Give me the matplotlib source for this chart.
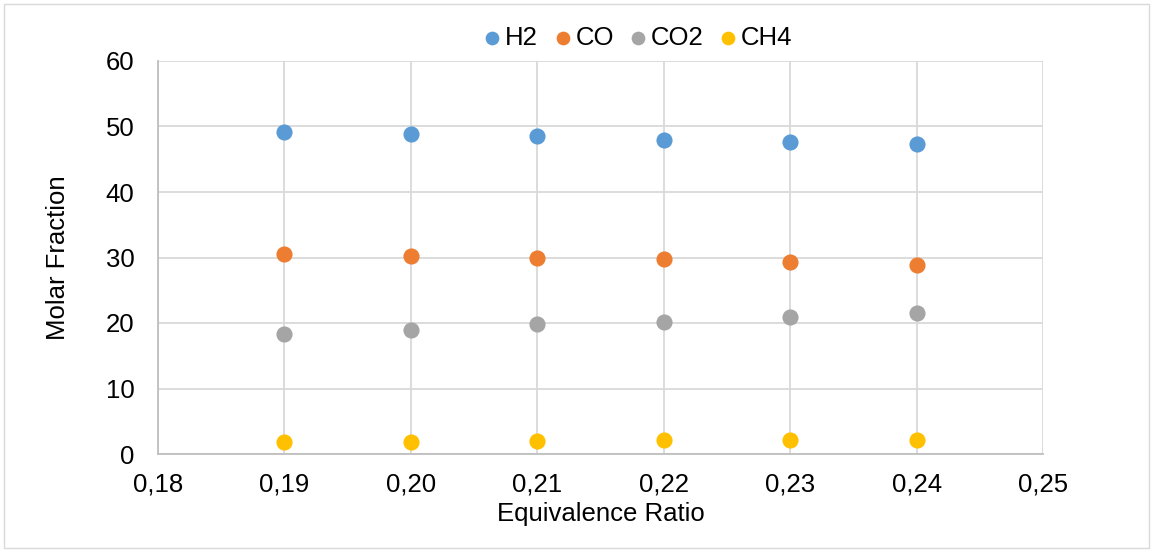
import matplotlib.pyplot as plt
from matplotlib.ticker import FuncFormatter, MultipleLocator

plt.rcParams['font.family'] = ['Liberation Sans', 'DejaVu Sans']

# equivalence ratio and gas composition (molar %)
ratio = [0.19, 0.20, 0.21, 0.22, 0.23, 0.24]
h2 = [49.2, 48.8, 48.5, 47.9, 47.6, 47.3]
co = [30.5, 30.2, 29.9, 29.8, 29.3, 28.9]
co2 = [18.3, 19.0, 19.8, 20.2, 20.9, 21.6]
ch4 = [1.9, 1.9, 2.0, 2.1, 2.1, 2.1]

series = [("H2", h2, "#5b9bd5"), ("CO", co, "#ed7d31"),
          ("CO2", co2, "#a5a5a5"), ("CH4", ch4, "#ffc000")]

W, H = 1153, 552
fig = plt.figure(figsize=(W / 100, H / 100), dpi=100)
ax = fig.add_axes([158 / W, 1 - 454 / H, (1043 - 158) / W, (454 - 61) / H])

for name, vals, col in series:
    ax.scatter(ratio, vals, s=135, color=col, label=name, zorder=3, linewidths=0)

ax.set_xlim(0.18, 0.25)
ax.set_ylim(0, 60)
ax.xaxis.set_major_locator(MultipleLocator(0.01))
ax.yaxis.set_major_locator(MultipleLocator(10))
ax.xaxis.set_major_formatter(FuncFormatter(lambda v, p: f"{v:.2f}".replace(".", ",")))

ax.grid(True, color="#d9d9d9", linewidth=1.3)
ax.set_axisbelow(True)
for s in ["top", "right"]:
    ax.spines[s].set_visible(False)
for s in ["left", "bottom"]:
    ax.spines[s].set_color("#bfbfbf")
    ax.spines[s].set_linewidth(1.3)
ax.tick_params(length=0, labelsize=18.5)
ax.tick_params(axis="x", pad=13)
ax.tick_params(axis="y", pad=17)

ax.set_xlabel("Equivalence Ratio", fontsize=18.5)
ax.set_ylabel("Molar Fraction", fontsize=18.5)
ax.xaxis.set_label_coords(0.5, (454 - 502) / 393)
ax.yaxis.set_label_coords((70 - 158) / 885, 0.5)

fig.legend(loc="center", bbox_to_anchor=(638 / W, 1 - 38 / H), ncol=4, frameon=False,
           fontsize=18.5, handlelength=0.7, handletextpad=0.15, columnspacing=0.6,
           markerscale=0.85, borderpad=0)

# light frame around the whole chart
fig.patches.append(plt.Rectangle((4 / W, 4 / H), 1 - 8 / W, 1 - 8 / H,
                                 transform=fig.transFigure, fill=False,
                                 edgecolor="#d9d9d9", linewidth=1))

fig.savefig("out.png", dpi=100)
